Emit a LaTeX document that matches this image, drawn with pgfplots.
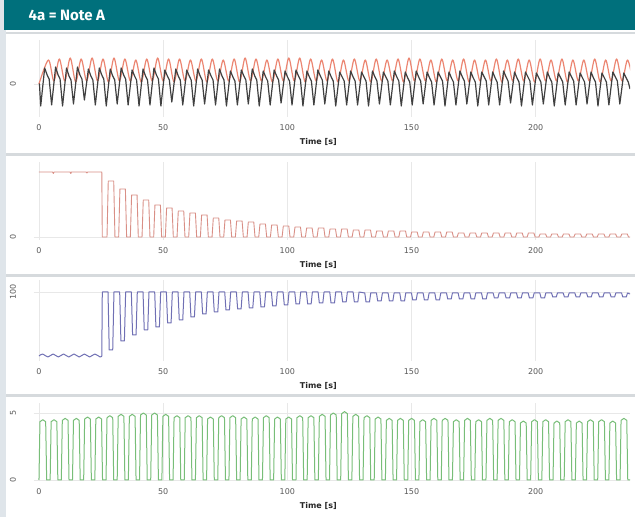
\documentclass[border=0pt]{standalone}
\usepackage{fontspec}
\setmainfont{DejaVu Sans}
\newfontfamily\headfont{Fira Sans}
\usepackage{pgfplots}
\pgfplotsset{compat=1.18}

\definecolor{headteal}{HTML}{00707C}
\definecolor{stripgray}{HTML}{DFE5EA}
\definecolor{sepgray}{HTML}{D6DADD}
\definecolor{gridgray}{HTML}{E8E8E8}
\definecolor{ticktext}{HTML}{5A5A5A}
\definecolor{sigred}{HTML}{EC8672}
\definecolor{sigblack}{HTML}{404040}
\definecolor{sigrose}{HTML}{D98F86}
\definecolor{sigblue}{HTML}{7070B4}
\definecolor{siggreen}{HTML}{78BE78}

\pgfplotsset{
  panel/.style={
    scale only axis, width=596pt, xmin=-2, xmax=238,
    anchor=south west,
    axis line style={draw=none},
    major tick length=0pt,
    xtick={0,50,100,150,200},
    grid=major, grid style={draw=gridgray, line width=0.8pt},
    tick label style={font=\fontsize{8}{9}\selectfont, text=ticktext},
    /pgf/number format/assume math mode=true,
    xticklabel style={yshift=-4pt},
    yticklabel style={rotate=90, anchor=center, yshift=21pt},
    xlabel={Time [s]},
    xlabel style={font=\bfseries\fontsize{8}{9}\selectfont, text=black!85,
      at={(axis description cs:0.477,0)}, anchor=center, yshift=-25pt},
    line join=round,
  },
}

\begin{document}
\begin{tikzpicture}
% page background, header and panel frames
\path[use as bounding box] (0,0) rectangle (635pt,517pt);
\fill[stripgray] (0,0) rectangle (635pt,517pt);
\fill[white] (6pt,0) rectangle (635pt,487pt);
\fill[headteal] (4pt,487pt) rectangle (635pt,517pt);
\node[anchor=west, text=white, font=\headfont\bfseries\fontsize{15}{17}\selectfont]
  at (25pt,502pt) {4a = Note A};
\fill[sepgray] (6pt,483pt) rectangle (635pt,485pt);
\fill[sepgray] (6pt,361pt) rectangle (635pt,364pt);
\fill[sepgray] (6pt,240pt) rectangle (635pt,243pt);
\fill[sepgray] (6pt,120pt) rectangle (635pt,123pt);

% panel 1: two oscillating signals
\begin{axis}[panel, at={(34pt,400pt)}, height=77pt, ymin=-33, ymax=44, ytick={0}]
\addplot[sigred, line width=1.2pt, smooth] coordinates {
(0,0) (3.8,24) (6.0,3) (8.2,25) (10.4,3) (12.6,26) (14.8,2) (17.0,25) (19.2,3) (21.4,26) (23.6,3)
(25.8,25) (28.0,2) (30.2,26) (32.4,3) (34.6,25) (36.8,3) (39.0,24) (41.2,2) (43.4,25) (45.6,3)
(47.8,26) (50.0,3) (52.2,25) (54.4,2) (56.6,25) (58.8,3) (61.0,24) (63.2,3) (65.4,25) (67.6,2)
(69.8,25) (72.0,3) (74.2,24) (76.4,3) (78.6,25) (80.8,2) (83.0,26) (85.2,3) (87.4,25) (89.6,3)
(91.8,24) (94.0,2) (96.2,25) (98.4,3) (100.6,26) (102.8,3) (105.0,26) (107.2,2) (109.4,25) (111.6,3)
(113.8,24) (116.0,3) (118.2,25) (120.4,2) (122.6,24) (124.8,3) (127.0,25) (129.2,3) (131.4,24) (133.6,2)
(135.8,25) (138.0,3) (140.2,24) (142.4,3) (144.6,25) (146.8,2) (149.0,26) (151.2,3) (153.4,25) (155.6,3)
(157.8,24) (160.0,2) (162.2,25) (164.4,3) (166.6,24) (168.8,3) (171.0,25) (173.2,2) (175.4,24) (177.6,3)
(179.8,24) (182.0,3) (184.2,25) (186.4,2) (188.6,24) (190.8,3) (193.0,25) (195.2,3) (197.4,24) (199.6,2)
(201.8,25) (204.0,3) (206.2,24) (208.4,3) (210.6,25) (212.8,2) (215.0,24) (217.2,3) (219.4,24) (221.6,3)
(223.8,25) (226.0,2) (228.2,24) (230.4,3) (232.6,25) (234.8,3) (237.0,24) (239.2,3)
};
\addplot[sigblack, line width=1.2pt] coordinates {
(0,0) (0.2,0)
(0.7,-22) (2.3,16) (3.3,9) (4.1,5)
(5.1,-21) (6.7,17) (7.7,9) (8.5,5)
(9.5,-22) (11.1,16) (12.1,8) (12.9,4)
(13.9,-20) (15.5,17) (16.5,9) (17.3,5)
(18.3,-16) (19.9,15) (20.9,8) (21.7,4)
(22.7,-21) (24.3,16) (25.3,9) (26.1,5)
(27.1,-22) (28.7,15) (29.7,8) (30.5,4)
(31.5,-20) (33.1,16) (34.1,9) (34.9,5)
(35.9,-21) (37.5,14) (38.5,8) (39.3,4)
(40.3,-22) (41.9,15) (42.9,8) (43.7,4)
(44.7,-21) (46.3,16) (47.3,9) (48.1,5)
(49.1,-22) (50.7,14) (51.7,8) (52.5,4)
(53.5,-18) (55.1,15) (56.1,8) (56.9,4)
(57.9,-21) (59.5,14) (60.5,8) (61.3,4)
(62.3,-22) (63.9,15) (64.9,8) (65.7,4)
(66.7,-20) (68.3,14) (69.3,8) (70.1,4)
(71.1,-21) (72.7,15) (73.7,8) (74.5,4)
(75.5,-22) (77.1,13) (78.1,7) (78.9,3)
(79.9,-21) (81.5,14) (82.5,8) (83.3,4)
(84.3,-20) (85.9,15) (86.9,8) (87.7,4)
(88.7,-22) (90.3,13) (91.3,7) (92.1,3)
(93.1,-21) (94.7,14) (95.7,8) (96.5,4)
(97.5,-19) (99.1,13) (100.1,7) (100.9,3)
(101.9,-21) (103.5,14) (104.5,8) (105.3,4)
(106.3,-22) (107.9,13) (108.9,7) (109.7,3)
(110.7,-21) (112.3,14) (113.3,8) (114.1,4)
(115.1,-20) (116.7,13) (117.7,7) (118.5,3)
(119.5,-22) (121.1,12) (122.1,7) (122.9,3)
(123.9,-21) (125.5,13) (126.5,7) (127.3,3)
(128.3,-21) (129.9,12) (130.9,7) (131.7,3)
(132.7,-22) (134.3,13) (135.3,7) (136.1,3)
(137.1,-20) (138.7,12) (139.7,7) (140.5,3)
(141.5,-21) (143.1,13) (144.1,7) (144.9,3)
(145.9,-22) (147.5,12) (148.5,6) (149.3,2)
(150.3,-21) (151.9,13) (152.9,7) (153.7,3)
(154.7,-20) (156.3,12) (157.3,6) (158.1,2)
(159.1,-21) (160.7,12) (161.7,7) (162.5,3)
(163.5,-22) (165.1,12) (166.1,6) (166.9,2)
(167.9,-21) (169.5,13) (170.5,7) (171.3,3)
(172.3,-20) (173.9,12) (174.9,6) (175.7,2)
(176.7,-22) (178.3,12) (179.3,7) (180.1,3)
(181.1,-21) (182.7,12) (183.7,6) (184.5,2)
(185.5,-21) (187.1,13) (188.1,7) (188.9,3)
(189.9,-19) (191.5,12) (192.5,6) (193.3,2)
(194.3,-22) (195.9,12) (196.9,7) (197.7,3)
(198.7,-21) (200.3,11) (201.3,6) (202.1,2)
(203.1,-20) (204.7,12) (205.7,6) (206.5,2)
(207.5,-22) (209.1,11) (210.1,6) (210.9,2)
(211.9,-21) (213.5,12) (214.5,7) (215.3,3)
(216.3,-21) (217.9,11) (218.9,6) (219.7,2)
(220.7,-20) (222.3,12) (223.3,6) (224.1,2)
(225.1,-22) (226.7,11) (227.7,6) (228.5,2)
(229.5,-21) (231.1,12) (232.1,7) (232.9,3)
(233.9,-20) (235.5,11) (236.5,6) (237.3,2)
(238.0,-5)
};
\end{axis}

% panel 2: step down then decaying pulses
\begin{axis}[panel, at={(34pt,277pt)}, height=78pt, ymin=-3, ymax=75, ytick={0}]
\addplot[sigrose, line width=0.9pt] coordinates {
(0,65) (5.5,65) (5.8,63.5) (6.1,65) (12.5,65) (12.8,63.5) (13.1,65) (19.0,65) (19.3,64) (19.6,65)
(25.3,65) (25.5,0)
(27.4,0) (27.9,56) (30.1,56) (30.6,0)
(32.1,0) (32.6,48) (34.8,48) (35.3,0)
(36.8,0) (37.3,42) (39.5,42) (40.0,0)
(41.5,0) (42.0,37) (44.2,37) (44.7,0)
(46.2,0) (46.7,32) (48.9,32) (49.4,0)
(50.9,0) (51.4,29) (53.6,29) (54.1,0)
(55.6,0) (56.1,26) (58.3,26) (58.8,0)
(60.3,0) (60.8,24) (63.0,24) (63.5,0)
(65.0,0) (65.5,22) (67.7,22) (68.2,0)
(69.7,0) (70.2,19) (72.4,19) (72.9,0)
(74.4,0) (74.9,17) (77.1,17) (77.6,0)
(79.1,0) (79.6,16) (81.8,16) (82.3,0)
(83.8,0) (84.3,15) (86.5,15) (87.0,0)
(88.5,0) (89.0,13) (91.2,13) (91.7,0)
(93.2,0) (93.7,12) (95.9,12) (96.4,0)
(97.9,0) (98.4,11) (100.6,11) (101.1,0)
(102.6,0) (103.1,10) (105.3,10) (105.8,0)
(107.3,0) (107.8,9) (110.0,9) (110.5,0)
(112.0,0) (112.5,9) (114.7,9) (115.2,0)
(116.7,0) (117.2,8) (119.4,8) (119.9,0)
(121.4,0) (121.9,8) (124.1,8) (124.6,0)
(126.1,0) (126.6,7) (128.8,7) (129.3,0)
(130.8,0) (131.3,7) (133.5,7) (134.0,0)
(135.5,0) (136.0,6) (138.2,6) (138.7,0)
(140.2,0) (140.7,6) (142.9,6) (143.4,0)
(144.9,0) (145.4,6) (147.6,6) (148.1,0)
(149.6,0) (150.1,5) (152.3,5) (152.8,0)
(154.3,0) (154.8,5) (157.0,5) (157.5,0)
(159.0,0) (159.5,5) (161.7,5) (162.2,0)
(163.7,0) (164.2,5) (166.4,5) (166.9,0)
(168.4,0) (168.9,4) (171.1,4) (171.6,0)
(173.1,0) (173.6,4) (175.8,4) (176.3,0)
(177.8,0) (178.3,4) (180.5,4) (181.0,0)
(182.5,0) (183.0,4) (185.2,4) (185.7,0)
(187.2,0) (187.7,4) (189.9,4) (190.4,0)
(191.9,0) (192.4,4) (194.6,4) (195.1,0)
(196.6,0) (197.1,4) (199.3,4) (199.8,0)
(201.3,0) (201.8,3) (204.0,3) (204.5,0)
(206.0,0) (206.5,3) (208.7,3) (209.2,0)
(210.7,0) (211.2,3) (213.4,3) (213.9,0)
(215.4,0) (215.9,3) (218.1,3) (218.6,0)
(220.1,0) (220.6,3) (222.8,3) (223.3,0)
(224.8,0) (225.3,3) (227.5,3) (228.0,0)
(229.5,0) (230.0,3) (232.2,3) (232.7,0)
(234.2,0) (234.7,3) (236.9,3) (237.4,0)
(238.0,0)
};
\end{axis}

% panel 3: step up then rising dips
\begin{axis}[panel, at={(34pt,156pt)}, height=81pt, ymin=31, ymax=112, ytick={100}]
\addplot[sigblue, line width=1pt, smooth] coordinates {
(0,36) (1.5,38) (3.6,35) (5.7,38) (7.8,35) (9.9,38) (12.0,35) (14.1,38) (16.2,35)
(18.3,38) (20.4,35) (22.5,38) (24.6,35) (25.3,36)
};
\addplot[sigblue, line width=1pt] coordinates {
(25.3,36) (25.5,100)
(27.8,100) (28.3,42) (29.7,42) (30.2,100)
(32.5,100) (33.0,51) (34.4,51) (34.9,100)
(37.2,100) (37.7,57) (39.1,57) (39.6,100)
(41.9,100) (42.4,62) (43.8,62) (44.3,100)
(46.6,100) (47.1,65) (48.5,65) (49.0,100)
(51.3,100) (51.8,69) (53.2,69) (53.7,100)
(56.0,100) (56.5,72) (57.9,72) (58.4,100)
(60.7,100) (61.2,75) (62.6,75) (63.1,100)
(65.4,100) (65.9,78) (67.3,78) (67.8,100)
(70.1,100) (70.6,80) (72.0,80) (72.5,100)
(74.8,100) (75.3,82) (76.7,82) (77.2,100)
(79.5,100) (80.0,83) (81.4,83) (81.9,100)
(84.2,100) (84.7,84) (86.1,84) (86.6,100)
(88.9,100) (89.4,85) (90.8,85) (91.3,100)
(93.6,100) (94.1,86) (95.5,86) (96.0,100)
(98.3,100) (98.8,87) (100.2,87) (100.7,100)
(103.0,100) (103.5,88) (104.9,88) (105.4,100)
(107.7,100) (108.2,88) (109.6,88) (110.1,100)
(112.4,100) (112.9,89) (114.3,89) (114.8,100)
(117.1,100) (117.6,89) (119.0,89) (119.5,100)
(121.8,100) (122.3,90) (123.7,90) (124.2,100)
(126.5,100) (127.0,90) (128.4,90) (128.9,100)
(131.2,99) (131.7,90) (133.1,90) (133.6,99)
(135.9,99) (136.4,91) (137.8,91) (138.3,99)
(140.6,99) (141.1,91) (142.5,91) (143.0,99)
(145.3,99) (145.8,91) (147.2,91) (147.7,99)
(150.0,99) (150.5,92) (151.9,92) (152.4,99)
(154.7,99) (155.2,92) (156.6,92) (157.1,99)
(159.4,99) (159.9,92) (161.3,92) (161.8,99)
(164.1,99) (164.6,93) (166.0,93) (166.5,99)
(168.8,99) (169.3,93) (170.7,93) (171.2,99)
(173.5,99) (174.0,93) (175.4,93) (175.9,99)
(178.2,99) (178.7,93) (180.1,93) (180.6,99)
(182.9,99) (183.4,94) (184.8,94) (185.3,99)
(187.6,99) (188.1,94) (189.5,94) (190.0,99)
(192.3,99) (192.8,94) (194.2,94) (194.7,99)
(197.0,99) (197.5,94) (198.9,94) (199.4,99)
(201.7,99) (202.2,94) (203.6,94) (204.1,99)
(206.4,99) (206.9,95) (208.3,95) (208.8,99)
(211.1,99) (211.6,95) (213.0,95) (213.5,99)
(215.8,99) (216.3,95) (217.7,95) (218.2,99)
(220.5,99) (221.0,95) (222.4,95) (222.9,99)
(225.2,99) (225.7,95) (227.1,95) (227.6,99)
(229.9,99) (230.4,95) (231.8,95) (232.3,99)
(234.6,99) (235.1,95) (236.5,95) (237.0,99)
(238.0,98)
};
\end{axis}

% panel 4: steady on/off signal
\begin{axis}[panel, at={(34pt,36pt)}, height=78pt, ymin=-0.075, ymax=5.746, ytick={0,5}]
\addplot[siggreen, line width=1pt] coordinates {
(0,0) (0.4,4.35) (1.55,4.5) (2.7,4.35) (3.1,0)
(4.5,0) (4.9,4.35) (6.05,4.5) (7.2,4.35) (7.6,0)
(9,0) (9.4,4.45) (10.55,4.6) (11.7,4.45) (12.1,0)
(13.5,0) (13.9,4.45) (15.05,4.6) (16.2,4.45) (16.6,0)
(18,0) (18.4,4.55) (19.55,4.7) (20.7,4.55) (21.1,0)
(22.5,0) (22.9,4.55) (24.05,4.7) (25.2,4.55) (25.6,0)
(27,0) (27.4,4.65) (28.55,4.8) (29.7,4.65) (30.1,0)
(31.5,0) (31.9,4.75) (33.05,4.9) (34.2,4.75) (34.6,0)
(36,0) (36.4,4.75) (37.55,4.9) (38.7,4.75) (39.1,0)
(40.5,0) (40.9,4.85) (42.05,5.0) (43.2,4.85) (43.6,0)
(45,0) (45.4,4.85) (46.55,5.0) (47.7,4.85) (48.1,0)
(49.5,0) (49.9,4.75) (51.05,4.9) (52.2,4.75) (52.6,0)
(54,0) (54.4,4.65) (55.55,4.8) (56.7,4.65) (57.1,0)
(58.5,0) (58.9,4.65) (60.05,4.8) (61.2,4.65) (61.6,0)
(63,0) (63.4,4.65) (64.55,4.8) (65.7,4.65) (66.1,0)
(67.5,0) (67.9,4.55) (69.05,4.7) (70.2,4.55) (70.6,0)
(72,0) (72.4,4.65) (73.55,4.8) (74.7,4.65) (75.1,0)
(76.5,0) (76.9,4.65) (78.05,4.8) (79.2,4.65) (79.6,0)
(81,0) (81.4,4.55) (82.55,4.7) (83.7,4.55) (84.1,0)
(85.5,0) (85.9,4.55) (87.05,4.7) (88.2,4.55) (88.6,0)
(90,0) (90.4,4.65) (91.55,4.8) (92.7,4.65) (93.1,0)
(94.5,0) (94.9,4.55) (96.05,4.7) (97.2,4.55) (97.6,0)
(99,0) (99.4,4.55) (100.55,4.7) (101.7,4.55) (102.1,0)
(103.5,0) (103.9,4.65) (105.05,4.8) (106.2,4.65) (106.6,0)
(108,0) (108.4,4.65) (109.55,4.8) (110.7,4.65) (111.1,0)
(112.5,0) (112.9,4.75) (114.05,4.9) (115.2,4.75) (115.6,0)
(117,0) (117.4,4.85) (118.55,5.0) (119.7,4.85) (120.1,0)
(121.5,0) (121.9,4.95) (123.05,5.1) (124.2,4.95) (124.6,0)
(126,0) (126.4,4.75) (127.55,4.9) (128.7,4.75) (129.1,0)
(130.5,0) (130.9,4.65) (132.05,4.8) (133.2,4.65) (133.6,0)
(135,0) (135.4,4.55) (136.55,4.7) (137.7,4.55) (138.1,0)
(139.5,0) (139.9,4.45) (141.05,4.6) (142.2,4.45) (142.6,0)
(144,0) (144.4,4.45) (145.55,4.6) (146.7,4.45) (147.1,0)
(148.5,0) (148.9,4.45) (150.05,4.6) (151.2,4.45) (151.6,0)
(153,0) (153.4,4.35) (154.55,4.5) (155.7,4.35) (156.1,0)
(157.5,0) (157.9,4.45) (159.05,4.6) (160.2,4.45) (160.6,0)
(162,0) (162.4,4.45) (163.55,4.6) (164.7,4.45) (165.1,0)
(166.5,0) (166.9,4.35) (168.05,4.5) (169.2,4.35) (169.6,0)
(171,0) (171.4,4.45) (172.55,4.6) (173.7,4.45) (174.1,0)
(175.5,0) (175.9,4.35) (177.05,4.5) (178.2,4.35) (178.6,0)
(180,0) (180.4,4.45) (181.55,4.6) (182.7,4.45) (183.1,0)
(184.5,0) (184.9,4.45) (186.05,4.6) (187.2,4.45) (187.6,0)
(189,0) (189.4,4.35) (190.55,4.5) (191.7,4.35) (192.1,0)
(193.5,0) (193.9,4.25) (195.05,4.4) (196.2,4.25) (196.6,0)
(198,0) (198.4,4.35) (199.55,4.5) (200.7,4.35) (201.1,0)
(202.5,0) (202.9,4.35) (204.05,4.5) (205.2,4.35) (205.6,0)
(207,0) (207.4,4.25) (208.55,4.4) (209.7,4.25) (210.1,0)
(211.5,0) (211.9,4.35) (213.05,4.5) (214.2,4.35) (214.6,0)
(216,0) (216.4,4.25) (217.55,4.4) (218.7,4.25) (219.1,0)
(220.5,0) (220.9,4.35) (222.05,4.5) (223.2,4.35) (223.6,0)
(225,0) (225.4,4.35) (226.55,4.5) (227.7,4.35) (228.1,0)
(229.5,0) (229.9,4.25) (231.05,4.4) (232.2,4.25) (232.6,0)
(234,0) (234.4,4.45) (235.55,4.6) (236.7,4.45) (237.1,0)
(238,0)
};
\end{axis}
\end{tikzpicture}
\end{document}
